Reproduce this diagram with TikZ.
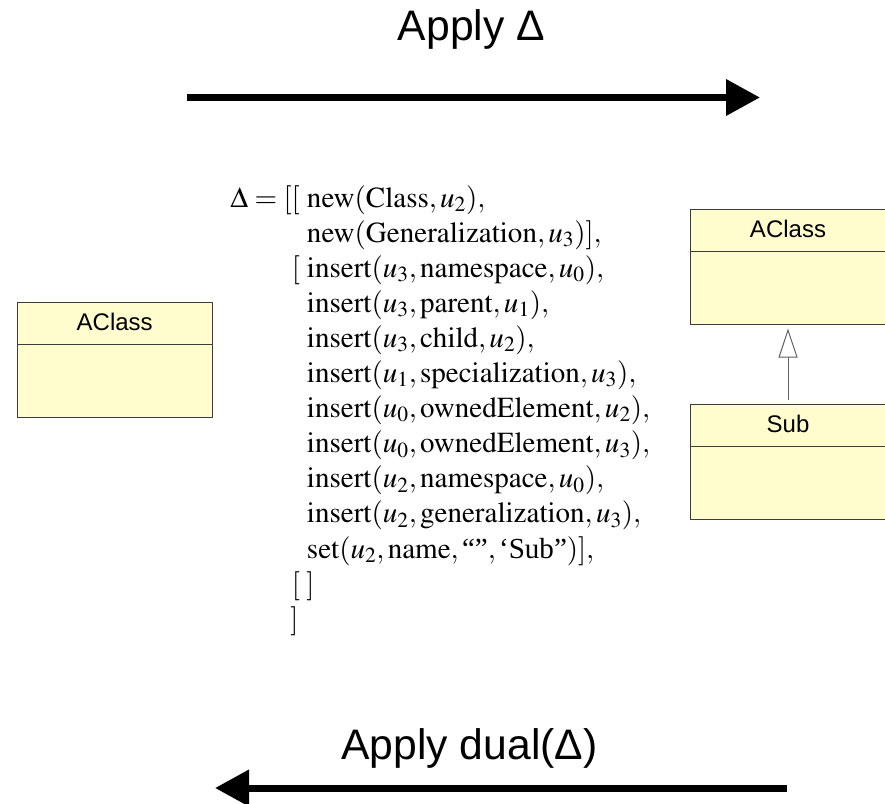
\documentclass[tikz,border=0pt]{standalone}
\usepackage{mathptmx}
\usepackage{fontspec}
\setmainfont{Liberation Serif}
\newfontfamily\helv{Liberation Sans}
\usetikzlibrary{arrows.meta}

\definecolor{boxfill}{RGB}{255,252,206}
\definecolor{boxline}{RGB}{60,60,60}
\definecolor{genline}{RGB}{95,95,95}

\begin{document}
\begin{tikzpicture}[x=0.75pt,y=-0.75pt,
  umlbox/.style={draw=boxline, fill=boxfill, line width=0.75pt,
    minimum width=148.5pt, minimum height=86.25pt, inner sep=0pt},
  boxrule/.style={draw=boxline, line width=0.75pt},
  umlname/.style={font=\helv\fontsize{18}{18}\selectfont, inner sep=0pt, anchor=base},
  mline/.style={anchor=base west, inner sep=0pt, font=\fontsize{21.8}{26}\selectfont},
  bigarrow/.style={line width=5.25pt, -{Triangle[length=25.5pt,width=26.25pt]}},
  gen/.style={draw=genline, line width=0.75pt,
    -{Triangle[open,length=21.75pt,width=14.25pt,fill=white]}},
  caption/.style={font=\helv\fontsize{32}{32}\selectfont, inner sep=0pt, anchor=base}]

\useasboundingbox (0,0) rectangle (885,803);
\clip (0,0) rectangle (885,803);

% ---- operation arrows and their captions
\coordinate (fwdS) at (187,97.5);
\coordinate (fwdE) at (760,97.5);
\draw[bigarrow] (fwdS) -- (fwdE);
\node[caption] (fwdlabel) at (471.5,40) {Apply Δ};

\coordinate (bwdS) at (787,788);
\coordinate (bwdE) at (215,788);
\draw[bigarrow] (bwdS) -- (bwdE);
\node[caption] (bwdlabel) at (469.5,759) {Apply dual(Δ)};

% ---- model before: a single class
\node[umlbox, minimum width=146pt] (lcls) at (114.7,359.5) {};
\draw[boxrule] ([yshift=-31.9pt]lcls.north west) -- ([yshift=-31.9pt]lcls.north east);
\node[umlname] (lclsname) at ([yshift=-21.6pt]lcls.north) {AClass};

% ---- model after: class with a subclass (running off the right edge)
\node[umlbox] (rcls) at (789,266.5) {};
\draw[boxrule] ([yshift=-32.25pt]rcls.north west) -- ([yshift=-32.25pt]rcls.north east);
\node[umlname] (rclsname) at ([xshift=-0.75pt,yshift=-21.4pt]rcls.north) {AClass};

\node[umlbox] (rsub) at (789,461.5) {};
\draw[boxrule] ([yshift=-32.25pt]rsub.north west) -- ([yshift=-32.25pt]rsub.north east);
\node[umlname] (rsubname) at ([xshift=-0.75pt,yshift=-21.4pt]rsub.north) {Sub};

\draw[gen] ([xshift=-0.75pt,yshift=3pt]rsub.north) -- ([xshift=-0.75pt,yshift=-3pt]rcls.south);

% ---- the difference Delta
\node[mline] (dhead) at (230,207) {$\Delta=[[$};
\node[mline] (d1)  at (306.7,207.0) {$\mathrm{new}(\mathrm{Class}, u_2),$};
\node[mline] (d2)  at (306.7,242.1) {$\mathrm{new}(\mathrm{Generalization}, u_3)],$};
\node[mline] (d3b) at (291.7,277.2) {$[$};
\node[mline] (d3)  at (306.7,277.2) {$\mathrm{insert}(u_3, \mathrm{namespace}, u_0),$};
\node[mline] (d4)  at (306.7,312.3) {$\mathrm{insert}(u_3, \mathrm{parent}, u_1),$};
\node[mline] (d5)  at (306.7,347.4) {$\mathrm{insert}(u_3, \mathrm{child}, u_2),$};
\node[mline] (d6)  at (306.7,382.5) {$\mathrm{insert}(u_1, \mathrm{specialization}, u_3),$};
\node[mline] (d7)  at (306.7,417.6) {$\mathrm{insert}(u_0, \mathrm{ownedElement}, u_2),$};
\node[mline] (d8)  at (306.7,452.7) {$\mathrm{insert}(u_0, \mathrm{ownedElement}, u_3),$};
\node[mline] (d9)  at (306.7,487.8) {$\mathrm{insert}(u_2, \mathrm{namespace}, u_0),$};
\node[mline] (d10) at (306.7,522.9) {$\mathrm{insert}(u_2, \mathrm{generalization}, u_3),$};
\node[mline] (d11) at (306.7,558.0) {$\mathrm{set}(u_2, \mathrm{name}, \mbox{``''}, \mbox{`Sub''})],$};
\node[mline] (d12) at (291.7,593.1) {$[\;]$};
\node[mline] (d13) at (290,628.2) {$]$};
\end{tikzpicture}
\end{document}
